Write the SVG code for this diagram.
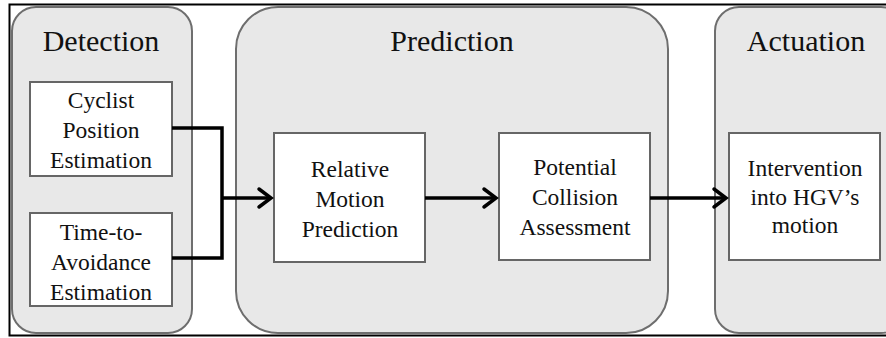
<svg xmlns="http://www.w3.org/2000/svg" width="886" height="338" viewBox="0 0 886 338">
<defs>
<style>
.stage{fill:#e8e8e8;stroke:#6e6e6e;stroke-width:2}
.box{fill:#ffffff;stroke:#666666;stroke-width:2}
.title{font-size:30px;fill:#111;text-anchor:middle}
.lbl{font-size:23.5px;fill:#111;text-anchor:middle}
.conn{fill:none;stroke:#000;stroke-width:3.5}
.head{fill:none;stroke:#000;stroke-width:3.5;stroke-linecap:round;stroke-linejoin:miter}
</style>
</defs>
<rect width="886" height="338" fill="#ffffff"/>
<path d="M890,4.5 H9.5 V335.5 H890" fill="none" stroke="#000" stroke-width="2"/>
<g font-family="Liberation Serif, Times New Roman, DejaVu Serif, serif">
<g id="detection">
<rect class="stage" x="12" y="7" width="180" height="326" rx="24"/>
<text class="title" x="101" y="51">Detection</text>
</g>
<g id="prediction">
<rect class="stage" x="236" y="7" width="432" height="326" rx="42"/>
<text class="title" x="452" y="51">Prediction</text>
</g>
<g id="actuation">
<rect class="stage" x="715" y="7" width="190" height="326" rx="24"/>
<text class="title" x="806" y="51">Actuation</text>
</g>
<g id="cyclist">
<rect class="box" x="30" y="82" width="142" height="94"/>
<text class="lbl" x="101" y="108">Cyclist</text>
<text class="lbl" x="101" y="138">Position</text>
<text class="lbl" x="101" y="168">Estimation</text>
</g>
<g id="tta">
<rect class="box" x="30" y="213" width="142" height="93"/>
<text class="lbl" x="101" y="240">Time-to-</text>
<text class="lbl" x="101" y="270">Avoidance</text>
<text class="lbl" x="101" y="300">Estimation</text>
</g>
<g id="relative">
<rect class="box" x="274" y="133" width="151" height="129"/>
<text class="lbl" x="350" y="177">Relative</text>
<text class="lbl" x="350" y="207">Motion</text>
<text class="lbl" x="350" y="237">Prediction</text>
</g>
<g id="collision">
<rect class="box" x="499" y="133" width="151" height="127"/>
<text class="lbl" x="575" y="175">Potential</text>
<text class="lbl" x="575" y="205">Collision</text>
<text class="lbl" x="575" y="235">Assessment</text>
</g>
<g id="intervention">
<rect class="box" x="729" y="133" width="151" height="127"/>
<text class="lbl" x="805" y="176">Intervention</text>
<text class="lbl" x="805" y="205">into HGV’s</text>
<text class="lbl" x="805" y="233">motion</text>
</g>
</g>
<g id="connectors">
<path class="conn" d="M172,128 H222 V258 H172"/>
<path class="conn" d="M222,198 H271"/>
<path class="head" d="M259,189 L271,198 L259,207"/>
<path class="conn" d="M425,198 H496"/>
<path class="head" d="M484,189 L496,198 L484,207"/>
<path class="conn" d="M650,198 H726"/>
<path class="head" d="M714,189 L726,198 L714,207"/>
</g>
</svg>
